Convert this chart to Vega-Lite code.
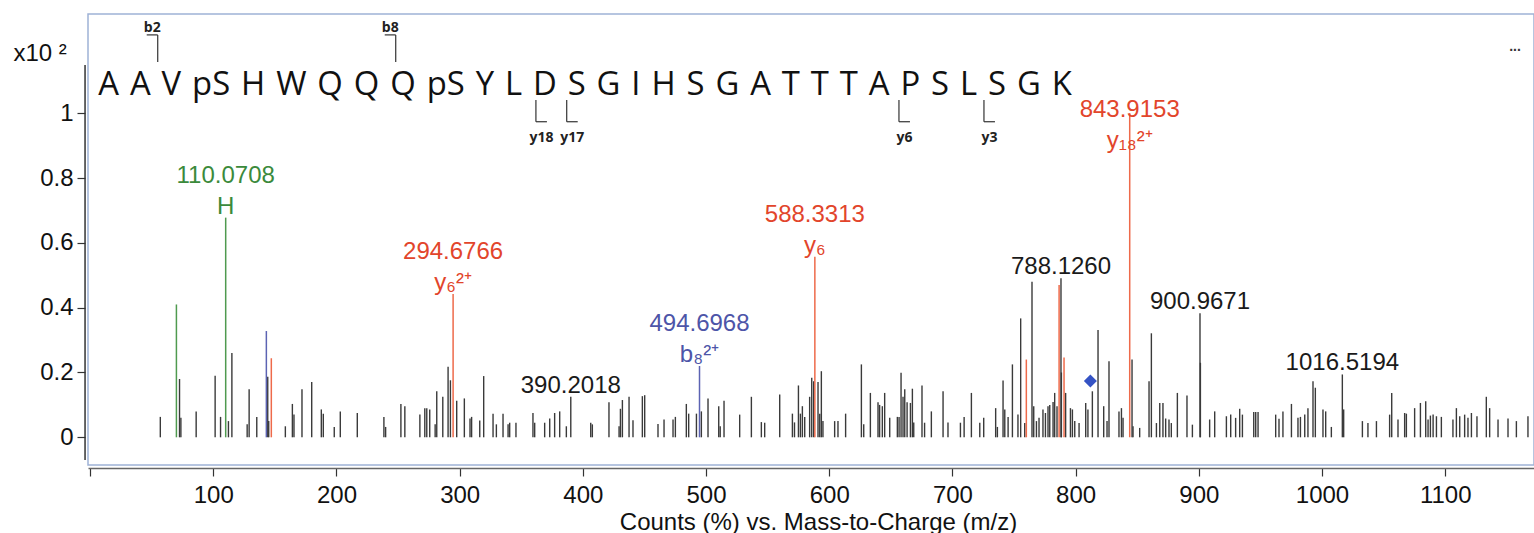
{
  "$schema": "https://vega.github.io/schema/vega-lite/v6.json",
  "width": 1446,
  "height": 451,
  "autosize": {"type": "none"},
  "padding": {"left": 88, "top": 14, "right": 0, "bottom": 68},
  "background": "white",
  "config": {"view": {"stroke": "#9fb2d6", "strokeWidth": 1.5}, "font": "Liberation Sans"},
  "resolve": {"scale": {"color": "independent"}},
  "datasets": {
    "peaks": [
      {"mz": 57.0, "intensity": 0.063, "kind": "other"},
      {"mz": 70.07, "intensity": 0.41, "kind": "imm"},
      {"mz": 72.6, "intensity": 0.18, "kind": "other"},
      {"mz": 73.7, "intensity": 0.06, "kind": "other"},
      {"mz": 86.1, "intensity": 0.08, "kind": "other"},
      {"mz": 101.5, "intensity": 0.19, "kind": "other"},
      {"mz": 105.9, "intensity": 0.063, "kind": "other"},
      {"mz": 110.0708, "intensity": 0.678, "kind": "imm"},
      {"mz": 112.3, "intensity": 0.05, "kind": "other"},
      {"mz": 115.1, "intensity": 0.26, "kind": "other"},
      {"mz": 127.5, "intensity": 0.04, "kind": "other"},
      {"mz": 129.1, "intensity": 0.148, "kind": "other"},
      {"mz": 135.3, "intensity": 0.063, "kind": "other"},
      {"mz": 143.08, "intensity": 0.328, "kind": "b"},
      {"mz": 144.2, "intensity": 0.187, "kind": "other"},
      {"mz": 145.0, "intensity": 0.05, "kind": "other"},
      {"mz": 147.11, "intensity": 0.244, "kind": "y"},
      {"mz": 158.5, "intensity": 0.034, "kind": "other"},
      {"mz": 164.2, "intensity": 0.103, "kind": "other"},
      {"mz": 165.5, "intensity": 0.07, "kind": "other"},
      {"mz": 172.0, "intensity": 0.148, "kind": "other"},
      {"mz": 179.9, "intensity": 0.171, "kind": "other"},
      {"mz": 187.7, "intensity": 0.086, "kind": "other"},
      {"mz": 189.3, "intensity": 0.073, "kind": "other"},
      {"mz": 198.2, "intensity": 0.032, "kind": "other"},
      {"mz": 203.1, "intensity": 0.08, "kind": "other"},
      {"mz": 216.9, "intensity": 0.075, "kind": "other"},
      {"mz": 238.5, "intensity": 0.063, "kind": "other"},
      {"mz": 239.9, "intensity": 0.032, "kind": "other"},
      {"mz": 252.3, "intensity": 0.103, "kind": "other"},
      {"mz": 255.5, "intensity": 0.096, "kind": "other"},
      {"mz": 267.7, "intensity": 0.07, "kind": "other"},
      {"mz": 271.7, "intensity": 0.09, "kind": "other"},
      {"mz": 273.3, "intensity": 0.09, "kind": "other"},
      {"mz": 275.7, "intensity": 0.086, "kind": "other"},
      {"mz": 280.1, "intensity": 0.04, "kind": "other"},
      {"mz": 281.4, "intensity": 0.142, "kind": "other"},
      {"mz": 286.3, "intensity": 0.125, "kind": "other"},
      {"mz": 290.6, "intensity": 0.218, "kind": "other"},
      {"mz": 292.5, "intensity": 0.176, "kind": "other"},
      {"mz": 294.6766, "intensity": 0.442, "kind": "y"},
      {"mz": 297.6, "intensity": 0.113, "kind": "other"},
      {"mz": 303.8, "intensity": 0.12, "kind": "other"},
      {"mz": 308.4, "intensity": 0.058, "kind": "other"},
      {"mz": 309.7, "intensity": 0.063, "kind": "other"},
      {"mz": 316.3, "intensity": 0.052, "kind": "other"},
      {"mz": 319.5, "intensity": 0.189, "kind": "other"},
      {"mz": 327.1, "intensity": 0.073, "kind": "other"},
      {"mz": 329.8, "intensity": 0.04, "kind": "other"},
      {"mz": 335.2, "intensity": 0.073, "kind": "other"},
      {"mz": 339.3, "intensity": 0.04, "kind": "other"},
      {"mz": 340.6, "intensity": 0.045, "kind": "other"},
      {"mz": 345.7, "intensity": 0.045, "kind": "other"},
      {"mz": 359.5, "intensity": 0.075, "kind": "other"},
      {"mz": 360.9, "intensity": 0.045, "kind": "other"},
      {"mz": 369.0, "intensity": 0.045, "kind": "other"},
      {"mz": 373.1, "intensity": 0.058, "kind": "other"},
      {"mz": 377.1, "intensity": 0.075, "kind": "other"},
      {"mz": 381.2, "intensity": 0.08, "kind": "other"},
      {"mz": 386.6, "intensity": 0.034, "kind": "other"},
      {"mz": 390.2018, "intensity": 0.125, "kind": "other"},
      {"mz": 406.4, "intensity": 0.045, "kind": "other"},
      {"mz": 407.7, "intensity": 0.04, "kind": "other"},
      {"mz": 421.2, "intensity": 0.108, "kind": "other"},
      {"mz": 429.4, "intensity": 0.034, "kind": "other"},
      {"mz": 430.5, "intensity": 0.088, "kind": "other"},
      {"mz": 432.1, "intensity": 0.115, "kind": "other"},
      {"mz": 437.5, "intensity": 0.125, "kind": "other"},
      {"mz": 440.7, "intensity": 0.053, "kind": "other"},
      {"mz": 448.3, "intensity": 0.127, "kind": "other"},
      {"mz": 450.2, "intensity": 0.13, "kind": "other"},
      {"mz": 461.0, "intensity": 0.041, "kind": "other"},
      {"mz": 465.9, "intensity": 0.055, "kind": "other"},
      {"mz": 473.2, "intensity": 0.055, "kind": "other"},
      {"mz": 475.1, "intensity": 0.063, "kind": "other"},
      {"mz": 484.0, "intensity": 0.103, "kind": "other"},
      {"mz": 485.9, "intensity": 0.073, "kind": "other"},
      {"mz": 492.2, "intensity": 0.073, "kind": "other"},
      {"mz": 494.6968, "intensity": 0.22, "kind": "b"},
      {"mz": 496.2, "intensity": 0.08, "kind": "other"},
      {"mz": 501.6, "intensity": 0.12, "kind": "other"},
      {"mz": 510.3, "intensity": 0.096, "kind": "other"},
      {"mz": 511.5, "intensity": 0.034, "kind": "other"},
      {"mz": 514.6, "intensity": 0.113, "kind": "other"},
      {"mz": 527.3, "intensity": 0.07, "kind": "other"},
      {"mz": 536.8, "intensity": 0.125, "kind": "other"},
      {"mz": 544.9, "intensity": 0.047, "kind": "other"},
      {"mz": 547.6, "intensity": 0.045, "kind": "other"},
      {"mz": 559.8, "intensity": 0.132, "kind": "other"},
      {"mz": 570.1, "intensity": 0.073, "kind": "other"},
      {"mz": 571.8, "intensity": 0.046, "kind": "other"},
      {"mz": 575.0, "intensity": 0.16, "kind": "other"},
      {"mz": 576.6, "intensity": 0.073, "kind": "other"},
      {"mz": 578.2, "intensity": 0.096, "kind": "other"},
      {"mz": 580.1, "intensity": 0.063, "kind": "other"},
      {"mz": 584.1, "intensity": 0.125, "kind": "other"},
      {"mz": 585.8, "intensity": 0.184, "kind": "other"},
      {"mz": 587.4, "intensity": 0.173, "kind": "other"},
      {"mz": 588.3313, "intensity": 0.557, "kind": "y"},
      {"mz": 590.9, "intensity": 0.171, "kind": "other"},
      {"mz": 592.3, "intensity": 0.073, "kind": "other"},
      {"mz": 593.6, "intensity": 0.204, "kind": "other"},
      {"mz": 594.9, "intensity": 0.05, "kind": "other"},
      {"mz": 604.4, "intensity": 0.05, "kind": "other"},
      {"mz": 607.1, "intensity": 0.05, "kind": "other"},
      {"mz": 613.3, "intensity": 0.073, "kind": "other"},
      {"mz": 626.1, "intensity": 0.225, "kind": "other"},
      {"mz": 628.0, "intensity": 0.04, "kind": "other"},
      {"mz": 633.4, "intensity": 0.137, "kind": "other"},
      {"mz": 639.6, "intensity": 0.108, "kind": "other"},
      {"mz": 640.9, "intensity": 0.1, "kind": "other"},
      {"mz": 643.1, "intensity": 0.096, "kind": "other"},
      {"mz": 645.0, "intensity": 0.137, "kind": "other"},
      {"mz": 649.1, "intensity": 0.06, "kind": "other"},
      {"mz": 655.3, "intensity": 0.063, "kind": "other"},
      {"mz": 656.7, "intensity": 0.063, "kind": "other"},
      {"mz": 658.3, "intensity": 0.199, "kind": "other"},
      {"mz": 659.9, "intensity": 0.125, "kind": "other"},
      {"mz": 661.3, "intensity": 0.148, "kind": "other"},
      {"mz": 663.2, "intensity": 0.108, "kind": "other"},
      {"mz": 665.9, "intensity": 0.106, "kind": "other"},
      {"mz": 667.5, "intensity": 0.15, "kind": "other"},
      {"mz": 668.6, "intensity": 0.046, "kind": "other"},
      {"mz": 675.3, "intensity": 0.16, "kind": "other"},
      {"mz": 677.4, "intensity": 0.045, "kind": "other"},
      {"mz": 682.9, "intensity": 0.08, "kind": "other"},
      {"mz": 692.4, "intensity": 0.142, "kind": "other"},
      {"mz": 696.4, "intensity": 0.046, "kind": "other"},
      {"mz": 706.5, "intensity": 0.045, "kind": "other"},
      {"mz": 709.5, "intensity": 0.063, "kind": "other"},
      {"mz": 715.4, "intensity": 0.137, "kind": "other"},
      {"mz": 722.2, "intensity": 0.045, "kind": "other"},
      {"mz": 725.4, "intensity": 0.06, "kind": "other"},
      {"mz": 735.1, "intensity": 0.09, "kind": "other"},
      {"mz": 736.5, "intensity": 0.032, "kind": "other"},
      {"mz": 741.1, "intensity": 0.175, "kind": "other"},
      {"mz": 742.5, "intensity": 0.086, "kind": "other"},
      {"mz": 745.2, "intensity": 0.063, "kind": "other"},
      {"mz": 748.7, "intensity": 0.225, "kind": "other"},
      {"mz": 753.2, "intensity": 0.07, "kind": "other"},
      {"mz": 755.4, "intensity": 0.367, "kind": "other"},
      {"mz": 758.7, "intensity": 0.044, "kind": "other"},
      {"mz": 760.0, "intensity": 0.24, "kind": "y"},
      {"mz": 764.6, "intensity": 0.48, "kind": "other"},
      {"mz": 766.0, "intensity": 0.096, "kind": "other"},
      {"mz": 768.2, "intensity": 0.05, "kind": "other"},
      {"mz": 770.3, "intensity": 0.06, "kind": "other"},
      {"mz": 773.5, "intensity": 0.086, "kind": "other"},
      {"mz": 775.5, "intensity": 0.075, "kind": "other"},
      {"mz": 777.6, "intensity": 0.096, "kind": "other"},
      {"mz": 779.0, "intensity": 0.1, "kind": "other"},
      {"mz": 781.7, "intensity": 0.109, "kind": "other"},
      {"mz": 783.0, "intensity": 0.137, "kind": "other"},
      {"mz": 784.9, "intensity": 0.096, "kind": "other"},
      {"mz": 786.6, "intensity": 0.47, "kind": "y"},
      {"mz": 788.126, "intensity": 0.491, "kind": "other"},
      {"mz": 788.46, "intensity": 0.2, "kind": "other"},
      {"mz": 790.6, "intensity": 0.246, "kind": "y"},
      {"mz": 791.9, "intensity": 0.137, "kind": "other"},
      {"mz": 795.8, "intensity": 0.09, "kind": "other"},
      {"mz": 797.4, "intensity": 0.086, "kind": "other"},
      {"mz": 799.3, "intensity": 0.05, "kind": "other"},
      {"mz": 802.8, "intensity": 0.044, "kind": "other"},
      {"mz": 808.2, "intensity": 0.106, "kind": "other"},
      {"mz": 810.0, "intensity": 0.086, "kind": "other"},
      {"mz": 813.6, "intensity": 0.142, "kind": "other"},
      {"mz": 818.2, "intensity": 0.331, "kind": "other"},
      {"mz": 822.8, "intensity": 0.096, "kind": "other"},
      {"mz": 825.5, "intensity": 0.05, "kind": "other"},
      {"mz": 827.1, "intensity": 0.235, "kind": "other"},
      {"mz": 835.2, "intensity": 0.08, "kind": "other"},
      {"mz": 837.2, "intensity": 0.09, "kind": "other"},
      {"mz": 838.5, "intensity": 0.06, "kind": "other"},
      {"mz": 843.9153, "intensity": 1.0, "kind": "y"},
      {"mz": 845.8, "intensity": 0.24, "kind": "other"},
      {"mz": 846.6, "intensity": 0.034, "kind": "other"},
      {"mz": 852.0, "intensity": 0.029, "kind": "other"},
      {"mz": 859.6, "intensity": 0.173, "kind": "other"},
      {"mz": 861.5, "intensity": 0.321, "kind": "other"},
      {"mz": 865.6, "intensity": 0.044, "kind": "other"},
      {"mz": 868.3, "intensity": 0.106, "kind": "other"},
      {"mz": 870.9, "intensity": 0.106, "kind": "other"},
      {"mz": 873.1, "intensity": 0.058, "kind": "other"},
      {"mz": 875.8, "intensity": 0.055, "kind": "other"},
      {"mz": 877.7, "intensity": 0.044, "kind": "other"},
      {"mz": 882.6, "intensity": 0.137, "kind": "other"},
      {"mz": 890.4, "intensity": 0.129, "kind": "other"},
      {"mz": 894.8, "intensity": 0.039, "kind": "other"},
      {"mz": 900.9671, "intensity": 0.383, "kind": "other"},
      {"mz": 901.3, "intensity": 0.23, "kind": "other"},
      {"mz": 908.8, "intensity": 0.055, "kind": "other"},
      {"mz": 912.9, "intensity": 0.08, "kind": "other"},
      {"mz": 922.4, "intensity": 0.065, "kind": "other"},
      {"mz": 925.9, "intensity": 0.07, "kind": "other"},
      {"mz": 929.9, "intensity": 0.06, "kind": "other"},
      {"mz": 933.2, "intensity": 0.088, "kind": "other"},
      {"mz": 935.4, "intensity": 0.07, "kind": "other"},
      {"mz": 944.6, "intensity": 0.078, "kind": "other"},
      {"mz": 946.2, "intensity": 0.078, "kind": "other"},
      {"mz": 948.1, "intensity": 0.078, "kind": "other"},
      {"mz": 962.4, "intensity": 0.07, "kind": "other"},
      {"mz": 965.1, "intensity": 0.057, "kind": "other"},
      {"mz": 968.3, "intensity": 0.08, "kind": "other"},
      {"mz": 975.2, "intensity": 0.103, "kind": "other"},
      {"mz": 980.5, "intensity": 0.06, "kind": "other"},
      {"mz": 982.5, "intensity": 0.063, "kind": "other"},
      {"mz": 986.0, "intensity": 0.07, "kind": "other"},
      {"mz": 988.6, "intensity": 0.09, "kind": "other"},
      {"mz": 992.7, "intensity": 0.173, "kind": "other"},
      {"mz": 994.6, "intensity": 0.153, "kind": "other"},
      {"mz": 1000.8, "intensity": 0.086, "kind": "other"},
      {"mz": 1003.0, "intensity": 0.08, "kind": "other"},
      {"mz": 1007.6, "intensity": 0.032, "kind": "other"},
      {"mz": 1016.5194, "intensity": 0.194, "kind": "other"},
      {"mz": 1017.6, "intensity": 0.086, "kind": "other"},
      {"mz": 1032.8, "intensity": 0.05, "kind": "other"},
      {"mz": 1037.3, "intensity": 0.044, "kind": "other"},
      {"mz": 1044.2, "intensity": 0.05, "kind": "other"},
      {"mz": 1054.9, "intensity": 0.07, "kind": "other"},
      {"mz": 1056.6, "intensity": 0.137, "kind": "other"},
      {"mz": 1061.7, "intensity": 0.055, "kind": "other"},
      {"mz": 1067.1, "intensity": 0.075, "kind": "other"},
      {"mz": 1068.5, "intensity": 0.073, "kind": "other"},
      {"mz": 1075.2, "intensity": 0.09, "kind": "other"},
      {"mz": 1079.9, "intensity": 0.106, "kind": "other"},
      {"mz": 1084.2, "intensity": 0.111, "kind": "other"},
      {"mz": 1086.1, "intensity": 0.055, "kind": "other"},
      {"mz": 1088.0, "intensity": 0.067, "kind": "other"},
      {"mz": 1090.2, "intensity": 0.07, "kind": "other"},
      {"mz": 1092.9, "intensity": 0.065, "kind": "other"},
      {"mz": 1096.9, "intensity": 0.063, "kind": "other"},
      {"mz": 1106.3, "intensity": 0.055, "kind": "other"},
      {"mz": 1109.1, "intensity": 0.09, "kind": "other"},
      {"mz": 1111.8, "intensity": 0.065, "kind": "other"},
      {"mz": 1115.8, "intensity": 0.07, "kind": "other"},
      {"mz": 1118.5, "intensity": 0.06, "kind": "other"},
      {"mz": 1121.3, "intensity": 0.075, "kind": "other"},
      {"mz": 1125.8, "intensity": 0.065, "kind": "other"},
      {"mz": 1133.4, "intensity": 0.125, "kind": "other"},
      {"mz": 1136.1, "intensity": 0.09, "kind": "other"},
      {"mz": 1142.9, "intensity": 0.055, "kind": "other"},
      {"mz": 1151.0, "intensity": 0.058, "kind": "other"},
      {"mz": 1157.8, "intensity": 0.05, "kind": "other"},
      {"mz": 1167.2, "intensity": 0.065, "kind": "other"}
    ],
    "labels": [
      {"mz": 110.0708, "intensity": 0.678, "text": "110.0708", "ion": "H", "kind": "imm"},
      {"mz": 294.6766, "intensity": 0.442, "text": "294.6766", "ion": "y₆²⁺", "kind": "y"},
      {"mz": 494.6968, "intensity": 0.22, "text": "494.6968", "ion": "b₈²⁺", "kind": "b"},
      {"mz": 588.3313, "intensity": 0.557, "text": "588.3313", "ion": "y₆", "kind": "y"},
      {"mz": 843.9153, "intensity": 1.0, "text": "843.9153", "ion": "y₁₈²⁺", "kind": "y"},
      {"mz": 390.2018, "intensity": 0.125, "text": "390.2018", "ion": "", "kind": "other"},
      {"mz": 788.126, "intensity": 0.491, "text": "788.1260", "ion": "", "kind": "other"},
      {"mz": 900.9671, "intensity": 0.383, "text": "900.9671", "ion": "", "kind": "other"},
      {"mz": 1016.5194, "intensity": 0.194, "text": "1016.5194", "ion": "", "kind": "other"}
    ],
    "markers": [
      {"frag": "b2", "kind": "b", "at": 54.9},
      {"frag": "b8", "kind": "b", "at": 248.1},
      {"frag": "y18", "kind": "y", "at": 361.9},
      {"frag": "y17", "kind": "y", "at": 386.9},
      {"frag": "y6", "kind": "y", "at": 656.6},
      {"frag": "y3", "kind": "y", "at": 725.6}
    ],
    "sequence": [
      {"peptide": "A\u2004A\u2004V\u2004pS\u2004H\u2004W\u2004Q\u2004Q\u2004Q\u2004pS\u2004Y\u2004L\u2004D\u2004S\u2004G\u2004I\u2004H\u2004S\u2004G\u2004A\u2004T\u2004T\u2004T\u2004A\u2004P\u2004S\u2004L\u2004S\u2004G\u2004K"}
    ],
    "precursor": [
      {"mark": "precursor"}
    ]
  },
  "layer": [
    {
      "data": {"name": "peaks"},
      "transform": [{"filter": "datum.kind == 'other'"}],
      "mark": {"type": "rule", "strokeWidth": 1.4, "color": "#3a3a3a"},
      "encoding": {
        "x": {
          "field": "mz", "type": "quantitative",
          "scale": {"domain": [-1.7, 1172.1], "nice": false, "zero": false},
          "axis": {
            "values": [0, 100, 200, 300, 400, 500, 600, 700, 800, 900, 1000, 1100],
            "format": "d",
            "labelExpr": "datum.value == 0 ? '' : datum.label",
            "title": "Counts (%) vs. Mass-to-Charge (m/z)",
            "offset": 3, "grid": false,
            "domainColor": "#666", "domainWidth": 1.5,
            "tickColor": "#333", "tickSize": 8, "tickWidth": 1.2,
            "labelFontSize": 24, "labelColor": "#111", "labelPadding": 7,
            "labelOverlap": false, "labelFlush": false,
            "titleFontSize": 24, "titleFontWeight": "normal", "titleColor": "#111",
            "titleX": 730, "titleY": 61, "titleBaseline": "alphabetic"
          }
        },
        "y": {
          "field": "intensity", "type": "quantitative",
          "scale": {"domain": [-0.0855, 1.3065], "nice": false, "zero": false},
          "axis": {
            "values": [0, 0.2, 0.4, 0.6, 0.8, 1],
            "format": "~g",
            "offset": 3, "domain": false, "grid": false,
            "tickColor": "#333", "tickSize": 8, "tickWidth": 1.2,
            "labelFontSize": 24, "labelColor": "#111", "labelPadding": 4,
            "labelOverlap": false, "labelFlush": false,
            "title": "x10 ²", "titleAngle": 0, "titleX": -72, "titleY": 46,
            "titleAlign": "left", "titleBaseline": "alphabetic",
            "titleFontSize": 24, "titleFontWeight": "normal", "titleColor": "#111"
          }
        },
        "y2": {"datum": 0}
      }
    },
    {
      "data": {"name": "peaks"},
      "transform": [{"filter": "datum.kind != 'other'"}],
      "mark": {"type": "rule", "strokeWidth": 1.5},
      "encoding": {
        "x": {"field": "mz", "type": "quantitative"},
        "y": {"field": "intensity", "type": "quantitative"},
        "y2": {"datum": 0},
        "color": {"field": "kind", "type": "nominal", "legend": null,
          "scale": {"domain": ["y", "b", "imm"], "range": ["#ee6a4a", "#5c63b3", "#4f9a4f"]}}
      }
    },
    {
      "data": {"name": "precursor"},
      "mark": {"type": "rule", "color": "#333", "strokeWidth": 1.5},
      "encoding": {"x": {"datum": -4.1}, "y": {"datum": -0.07}, "y2": {"datum": 1.149}}
    },
    {
      "data": {"name": "precursor"},
      "mark": {"type": "point", "shape": "diamond", "filled": true, "size": 170, "color": "#3553c4", "opacity": 1},
      "encoding": {"x": {"datum": 812.0}, "y": {"datum": 0.174}}
    },
    {
      "data": {"name": "sequence"},
      "mark": {"type": "text", "font": "Open Sans", "fontSize": 32.8, "align": "left", "baseline": "alphabetic", "color": "#111"},
      "encoding": {
        "x": {"datum": 6.66}, "y": {"datum": 1.0565},
        "text": {"field": "peptide"}
      }
    },
    {
      "data": {"name": "precursor"},
      "mark": {"type": "text", "fontSize": 14, "fontWeight": "bold", "align": "center", "baseline": "alphabetic", "color": "#333"},
      "encoding": {"x": {"datum": 1156.7}, "y": {"datum": 1.192}, "text": {"value": "..."}}
    },
    {
      "data": {"name": "markers"},
      "transform": [{"filter": "datum.kind == 'b'"}],
      "layer": [
        {
          "mark": {"type": "rule", "color": "#333", "strokeWidth": 1.2},
          "encoding": {"x": {"field": "at", "type": "quantitative"}, "y": {"datum": 1.158}, "y2": {"datum": 1.242}}
        },
        {
          "mark": {"type": "rule", "color": "#333", "strokeWidth": 1.2, "x2Offset": -11},
          "encoding": {"x": {"field": "at", "type": "quantitative"}, "x2": {"field": "at"}, "y": {"datum": 1.242}}
        },
        {
          "mark": {"type": "text", "font": "Open Sans", "fontSize": 14, "fontWeight": "bold", "align": "center", "baseline": "alphabetic", "dx": -5.5, "color": "#222"},
          "encoding": {"x": {"field": "at", "type": "quantitative"}, "y": {"datum": 1.252}, "text": {"field": "frag"}}
        }
      ]
    },
    {
      "data": {"name": "markers"},
      "transform": [{"filter": "datum.kind == 'y'"}],
      "layer": [
        {
          "mark": {"type": "rule", "color": "#333", "strokeWidth": 1.2},
          "encoding": {"x": {"field": "at", "type": "quantitative"}, "y": {"datum": 0.974}, "y2": {"datum": 1.041}}
        },
        {
          "mark": {"type": "rule", "color": "#333", "strokeWidth": 1.2, "x2Offset": 11},
          "encoding": {"x": {"field": "at", "type": "quantitative"}, "x2": {"field": "at"}, "y": {"datum": 0.974}}
        },
        {
          "mark": {"type": "text", "font": "Open Sans", "fontSize": 14, "fontWeight": "bold", "align": "center", "baseline": "alphabetic", "dx": 5.5, "color": "#222"},
          "encoding": {"x": {"field": "at", "type": "quantitative"}, "y": {"datum": 0.912}, "text": {"field": "frag"}}
        }
      ]
    },
    {
      "data": {"name": "labels"},
      "transform": [{"filter": "datum.kind == 'other'"}],
      "mark": {"type": "text", "fontSize": 24, "align": "center", "baseline": "alphabetic", "dy": -4, "color": "#1a1a1a"},
      "encoding": {"x": {"field": "mz", "type": "quantitative"}, "y": {"field": "intensity", "type": "quantitative"}, "text": {"field": "text"}}
    },
    {
      "data": {"name": "labels"},
      "transform": [{"filter": "datum.kind != 'other' && datum.intensity < 0.9"}],
      "layer": [
        {
          "mark": {"type": "text", "fontSize": 24, "align": "center", "baseline": "alphabetic", "dy": -35},
          "encoding": {
            "x": {"field": "mz", "type": "quantitative"}, "y": {"field": "intensity", "type": "quantitative"},
            "text": {"field": "text"},
            "color": {"field": "kind", "type": "nominal", "legend": null,
              "scale": {"domain": ["y", "b", "imm"], "range": ["#e2452b", "#4d55a8", "#3b8a3b"]}}
          }
        },
        {
          "mark": {"type": "text", "fontSize": 24, "align": "center", "baseline": "alphabetic", "dy": -4},
          "encoding": {
            "x": {"field": "mz", "type": "quantitative"}, "y": {"field": "intensity", "type": "quantitative"},
            "text": {"field": "ion"},
            "color": {"field": "kind", "type": "nominal", "legend": null,
              "scale": {"domain": ["y", "b", "imm"], "range": ["#e2452b", "#4d55a8", "#3b8a3b"]}}
          }
        }
      ]
    },
    {
      "data": {"name": "labels"},
      "transform": [{"filter": "datum.kind != 'other' && datum.intensity >= 0.9"}],
      "layer": [
        {
          "mark": {"type": "text", "fontSize": 24, "align": "center", "baseline": "alphabetic", "dy": -35, "color": "#e2452b"},
          "encoding": {"x": {"field": "mz", "type": "quantitative"}, "y": {"datum": 0.88}, "text": {"field": "text"}}
        },
        {
          "mark": {"type": "text", "fontSize": 24, "align": "center", "baseline": "alphabetic", "dy": -4, "color": "#e2452b"},
          "encoding": {"x": {"field": "mz", "type": "quantitative"}, "y": {"datum": 0.88}, "text": {"field": "ion"}}
        }
      ]
    }
  ]
}
